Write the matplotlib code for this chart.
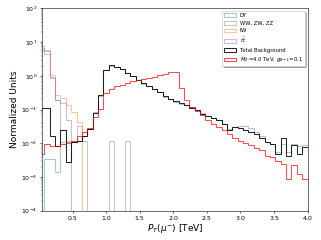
import numpy as np
import matplotlib
matplotlib.use('Agg')
import matplotlib.pyplot as plt

# bin edges in TeV (50 bins of 80 GeV)
edges = np.linspace(0, 4.0, 51)

# normalized contents per bin
dy = [0.0, 0.0035, 0.0035, 0.0014, 0.011, 0.011, 0.011, 0.012, 0.016, 0.027,
      0.085, 0.26, 1.45, 2.0, 1.85, 1.55, 1.25, 0.98, 0.76, 0.58,
      0.49, 0.41, 0.33, 0.23, 0.2, 0.17, 0.15, 0.135, 0.12, 0.1,
      0.08, 0.065, 0.058, 0.05, 0.038, 0.026, 0.03, 0.033, 0.033, 0.028,
      0.021, 0.016, 0.011, 0.0098, 0.0055, 0.0095, 0.0055, 0.0098, 0.0085, 0.009]
vv = [7.5, 4.3, 0.9, 0.19, 0.024, 0.0117, 0.0117, 0.033, 0.0117, 0.0,
      0.0, 0.0, 0.0, 0.0117, 0.0, 0.0, 0.0117, 0.0, 0.0, 0.0,
      0.0, 0.0, 0.0, 0.0, 0.0, 0.0, 0.0, 0.0, 0.0, 0.0,
      0.0, 0.0, 0.0, 0.0, 0.0, 0.0, 0.0, 0.0, 0.0, 0.0,
      0.0, 0.0, 0.0, 0.0, 0.0, 0.0, 0.0, 0.0, 0.0, 0.0]
tw = [6.5, 5.8, 1.05, 0.27, 0.22, 0.14, 0.085, 0.042, 0.0, 0.0,
      0.0, 0.0, 0.0, 0.0, 0.0, 0.0, 0.0, 0.0, 0.0, 0.0,
      0.0, 0.0, 0.0, 0.0, 0.0, 0.0, 0.0, 0.0, 0.0, 0.0,
      0.0, 0.0, 0.0, 0.0, 0.0, 0.0, 0.0, 0.0, 0.0, 0.0,
      0.0, 0.0, 0.0, 0.0, 0.0, 0.0, 0.0, 0.0, 0.0, 0.0]
tt = [6.0, 5.5, 0.85, 0.19, 0.16, 0.05, 0.0, 0.0, 0.0, 0.0,
      0.0, 0.0, 0.0, 0.0, 0.0, 0.0, 0.0, 0.0, 0.0, 0.0,
      0.0, 0.0, 0.0, 0.0, 0.0, 0.0, 0.0, 0.0, 0.0, 0.0,
      0.0, 0.0, 0.0, 0.0, 0.0, 0.0, 0.0, 0.0, 0.0, 0.0,
      0.0, 0.0, 0.0, 0.0, 0.0, 0.0, 0.0, 0.0, 0.0, 0.0]
total = [0.11, 0.11, 0.016, 0.0085, 0.024, 0.0027, 0.011, 0.012, 0.016, 0.026,
         0.08, 0.27, 1.5, 2.05, 1.85, 1.55, 1.25, 0.98, 0.76, 0.6,
         0.5, 0.41, 0.33, 0.26, 0.21, 0.18, 0.155, 0.135, 0.115, 0.095,
         0.075, 0.065, 0.058, 0.05, 0.038, 0.024, 0.03, 0.028, 0.025, 0.022,
         0.019, 0.0145, 0.011, 0.0095, 0.0048, 0.014, 0.0042, 0.009, 0.0048, 0.008]
signal = [0.0047, 0.0095, 0.0085, 0.0085, 0.0095, 0.0105, 0.012, 0.017, 0.022, 0.028,
          0.06, 0.105, 0.3, 0.42, 0.5, 0.55, 0.62, 0.68, 0.73, 0.78,
          0.85, 0.95, 1.05, 1.17, 1.3, 1.32, 0.43, 0.19, 0.12, 0.09,
          0.07, 0.05, 0.038, 0.03, 0.024, 0.019, 0.014, 0.012, 0.0105, 0.0088,
          0.0072, 0.0063, 0.0042, 0.004, 0.0029, 0.0024, 0.0009, 0.0022, 0.0012, 0.00085]


def plot_pt_mu():
    centers = 0.5 * (edges[1:] + edges[:-1])
    fig = plt.figure(figsize=(6.42, 4.8), dpi=50)
    ax = fig.add_subplot(111)
    fig.subplots_adjust(left=0.132, right=0.958, top=0.965, bottom=0.122)
    ax.set_yscale('log')

    ax.hist(centers, bins=edges, weights=dy, histtype='step', color='#1f77b4', alpha=0.4, linewidth=1.5, label='DY')
    ax.hist(centers, bins=edges, weights=vv, histtype='step', color='#7f7f7f', alpha=0.45, linewidth=1.5, label='WW, ZW, ZZ')
    ax.hist(centers, bins=edges, weights=tw, histtype='step', color='#ff7f0e', alpha=0.45, linewidth=1.5, label='tW')
    ax.hist(centers, bins=edges, weights=tt, histtype='step', color='#9467bd', alpha=0.45, linewidth=1.5, label=r'$t\bar{t}$')
    ax.hist(centers, bins=edges, weights=total, histtype='step', color='black', alpha=0.85, linewidth=1.5, label='Total Background')
    ax.hist(centers, bins=edges, weights=signal, histtype='step', color='red', alpha=0.7, linewidth=1.5,
            label=r"$M_{Z'}$=4.0 TeV, $g_{B-L}$=0.1")

    ax.set_xlim(0.05, 4.0)
    ax.set_ylim(1e-4, 1e2)
    ax.tick_params(labelsize=9)
    ax.set_xlabel(r'$P_T(\mu^{-})$ [TeV]', fontsize=13, labelpad=2)
    ax.set_ylabel('Normalized Units', fontsize=13)
    ax.legend(loc='upper right', fontsize=7.5, shadow=True, handlelength=2.2)
    fig.savefig('out.png', dpi=50)


plot_pt_mu()
